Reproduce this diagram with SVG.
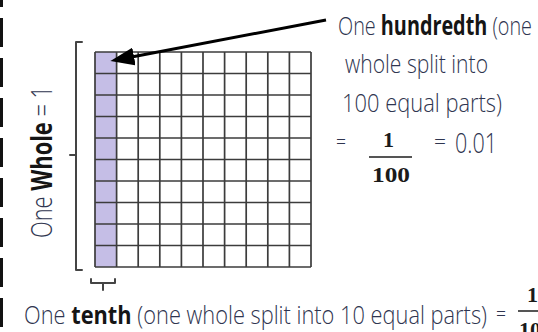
<svg xmlns="http://www.w3.org/2000/svg" width="538" height="332" viewBox="0 0 538 332">
<defs>
<style>
.t{font-family:"Open Sans","Noto Sans","DejaVu Sans",sans-serif;font-weight:300;fill:#2f3550}
.b{font-weight:700;fill:#151515}
.m{font-family:"Liberation Serif","DejaVu Serif",serif;font-weight:700;fill:#1a1a1a}
.grid{fill:none;stroke:#3c3c3c;stroke-width:1.7}
.br{fill:none;stroke:#444;stroke-width:2;stroke-linecap:round;stroke-linejoin:round}
.bar{stroke:#555;stroke-width:2}
</style>
<marker id="ah" markerUnits="userSpaceOnUse" markerWidth="24" markerHeight="18" viewBox="0 0 24 18" refX="1" refY="9" orient="auto">
<path d="M0,0 L24,9 L0,18 z" fill="#000"/>
</marker>
</defs>
<rect width="538" height="332" fill="#fff"/>
<line x1="1.5" y1="-22" x2="1.5" y2="332" stroke="#111" stroke-width="3" stroke-dasharray="29 11"/>
<g id="grid">
<rect x="95" y="52" width="21.6" height="215" fill="#c5bee6"/>
<path class="grid" d="M95,52V267M116.6,52V267M138.2,52V267M159.8,52V267M181.4,52V267M203,52V267M224.6,52V267M246.2,52V267M267.8,52V267M289.4,52V267M311,52V267M95,52H311M95,73.5H311M95,95H311M95,116.5H311M95,138H311M95,159.5H311M95,181H311M95,202.5H311M95,224H311M95,245.5H311M95,267H311"/>
</g>
<g id="whole-bracket">
<path class="br" d="M82,42 L76,42 L76,270 L82,270 M76,155 L70,155"/>
<text class="t" transform="translate(52,238) rotate(-90)" font-size="29" textLength="152" lengthAdjust="spacingAndGlyphs">One <tspan class="b">Whole</tspan> = 1</text>
</g>
<g id="tenth-brace">
<path class="br" d="M91,279 L91,283 L115,283 L115,279 M103,283 L103,290"/>
<text class="t" x="24" y="324" font-size="25" textLength="463" lengthAdjust="spacingAndGlyphs">One <tspan class="b">tenth</tspan> (one whole split into 10 equal parts)</text>
<text class="t" x="496" y="321" font-size="20" textLength="10" lengthAdjust="spacingAndGlyphs">=</text>
<text class="m" x="527" y="302" font-size="22">1</text>
<line class="bar" x1="518" y1="311" x2="540" y2="311"/>
<text class="m" x="519" y="337" font-size="22">10</text>
</g>
<g id="hundredth-label">
<text class="t" x="338" y="35" font-size="26" textLength="194" lengthAdjust="spacingAndGlyphs">One <tspan class="b">hundredth</tspan> (one</text>
<text class="t" x="345" y="73" font-size="26" textLength="143" lengthAdjust="spacingAndGlyphs">whole split into</text>
<text class="t" x="342" y="112" font-size="26" textLength="160" lengthAdjust="spacingAndGlyphs">100 equal parts)</text>
<text class="t" x="336" y="149" font-size="20" textLength="10" lengthAdjust="spacingAndGlyphs">=</text>
<text class="m" x="383" y="147" font-size="22">1</text>
<line class="bar" x1="369" y1="157" x2="412" y2="157"/>
<text class="m" x="372" y="182" font-size="22" textLength="38" lengthAdjust="spacingAndGlyphs">100</text>
<text class="t" x="434" y="149" font-size="20" textLength="12" lengthAdjust="spacingAndGlyphs">=</text>
<text class="t" x="455" y="153" font-size="27" textLength="42" lengthAdjust="spacingAndGlyphs">0.01</text>
</g>
<g id="connectors">
<line x1="326" y1="20" x2="133" y2="56.7" stroke="#000" stroke-width="3" marker-end="url(#ah)"/>
</g>
</svg>
